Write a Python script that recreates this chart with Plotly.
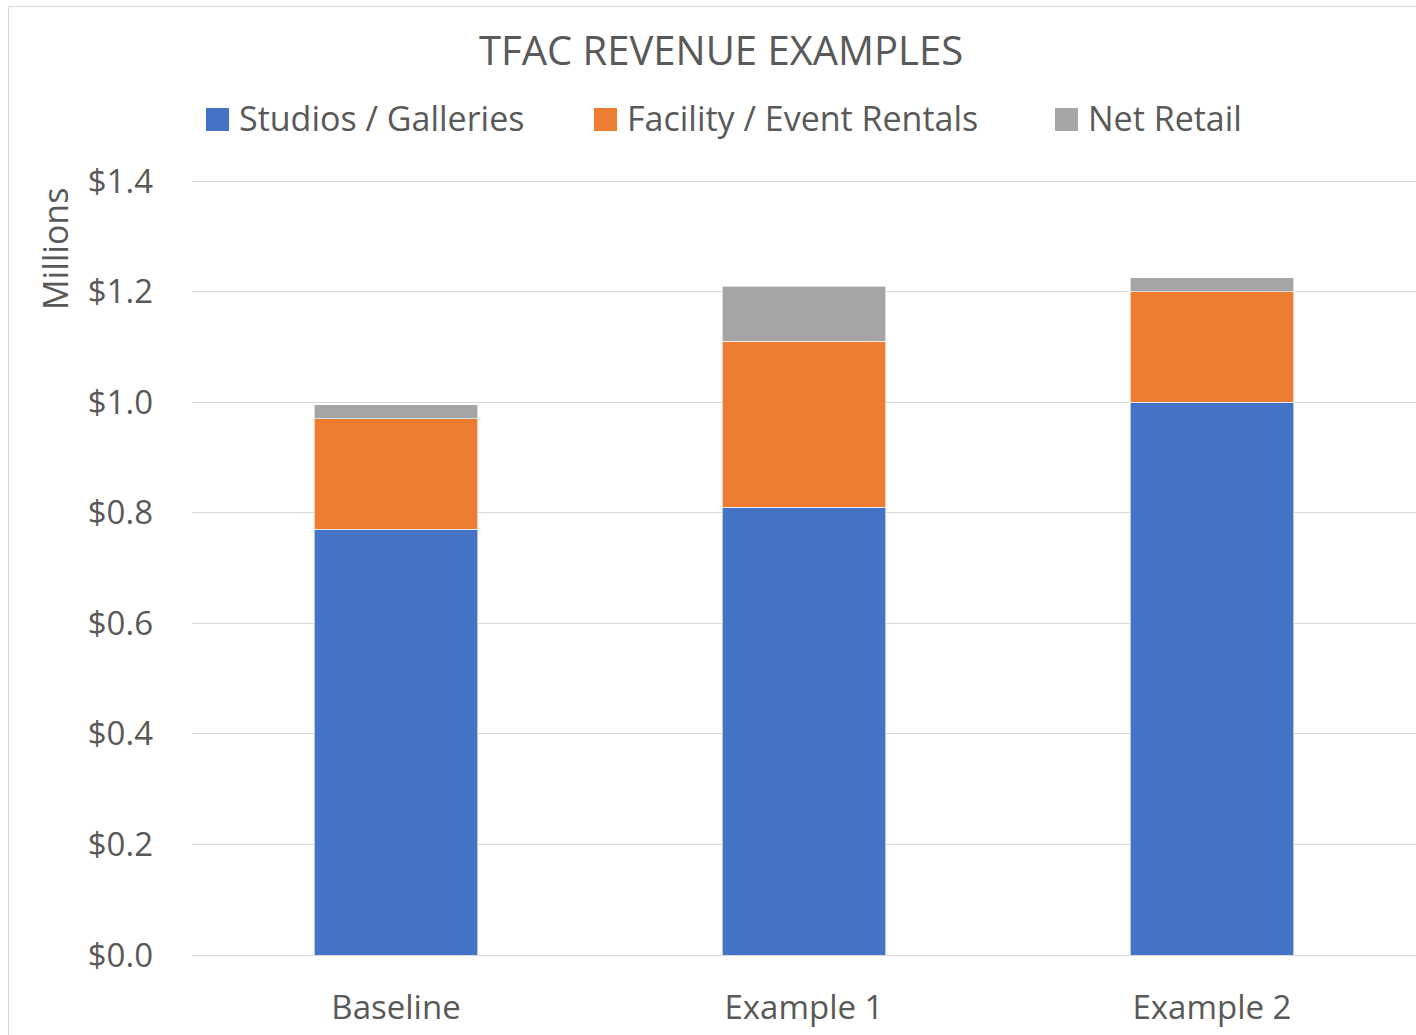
import plotly.graph_objects as go

categories = ["Baseline", "Example 1", "Example 2"]
studios = [0.77, 0.81, 1.00]
facility = [0.20, 0.30, 0.20]
retail = [0.025, 0.10, 0.025]
series_names = ["Studios / Galleries", "Facility / Event Rentals", "Net Retail"]
colors = ["#4472C4", "#ED7D31", "#A5A5A5"]
y_ticks = [0, 0.2, 0.4, 0.6, 0.8, 1.0, 1.2, 1.4]

W, H = 1416, 1035
L, R, T, B = 192, 0, 180, 80
PW, PH = W - L - R, H - T - B
FONT = "Open Sans"
TXT = "#595959"

def px(x):
    return (x - L) / PW

def py(y):
    return (H - B - y) / PH

fig = go.Figure()
for name, vals, col in zip(series_names, [studios, facility, retail], colors):
    fig.add_trace(go.Bar(x=categories, y=vals, name=name, marker_color=col,
                         marker_line=dict(color="white", width=0.6),
                         showlegend=False))

fig.update_layout(
    barmode="stack", bargap=0.6,
    width=W, height=H,
    margin=dict(l=L, r=R, t=T, b=B, pad=0),
    paper_bgcolor="white", plot_bgcolor="white",
    font=dict(family=FONT, color=TXT, size=33),
    xaxis=dict(showgrid=False, showline=False, ticks="", ticklabelstandoff=30,
               tickfont=dict(size=33, color=TXT)),
    yaxis=dict(range=[0, 1.402], tickvals=y_ticks, tickformat="$.1f",
               showgrid=True, gridcolor="#D9D9D9", gridwidth=1,
               zeroline=True, zerolinecolor="#D9D9D9", zerolinewidth=1,
               showline=False, ticks="", ticklabelstandoff=38,
               tickfont=dict(size=33, color=TXT)),
)

# chart border (left and top, right/bottom are off-image)
fig.add_shape(type="line", xref="paper", yref="paper", x0=px(8.5), x1=px(8.5), y0=py(6.5), y1=py(1040),
              line=dict(color="#D9D9D9", width=1))
fig.add_shape(type="line", xref="paper", yref="paper", x0=px(8.5), x1=px(1430), y0=py(6.5), y1=py(6.5),
              line=dict(color="#D9D9D9", width=1))

# title
fig.add_annotation(text="TFAC REVENUE EXAMPLES", xref="paper", yref="paper",
                   x=px(721), y=py(49), xanchor="center", yanchor="middle",
                   showarrow=False, font=dict(size=40, color=TXT, family=FONT))

# y axis title
fig.add_annotation(text="Millions", xref="paper", yref="paper", textangle=-90,
                   x=px(55), y=py(249), xanchor="center", yanchor="middle",
                   showarrow=False, font=dict(size=34, color=TXT, family=FONT))

# legend
sq_x = [206, 594, 1055]
for name, col, x0 in zip(series_names, colors, sq_x):
    fig.add_shape(type="rect", xref="paper", yref="paper",
                  x0=px(x0), x1=px(x0 + 23), y0=py(131), y1=py(108),
                  fillcolor=col, line=dict(width=0))
    fig.add_annotation(text=name, xref="paper", yref="paper",
                       x=px(x0 + 31), y=py(118), xanchor="left", yanchor="middle",
                       showarrow=False, font=dict(size=34, color=TXT, family=FONT))

fig.write_html("out.html", config={"displayModeBar": False},
               post_script="document.body.style.margin='0';document.body.style.overflow='hidden';")
